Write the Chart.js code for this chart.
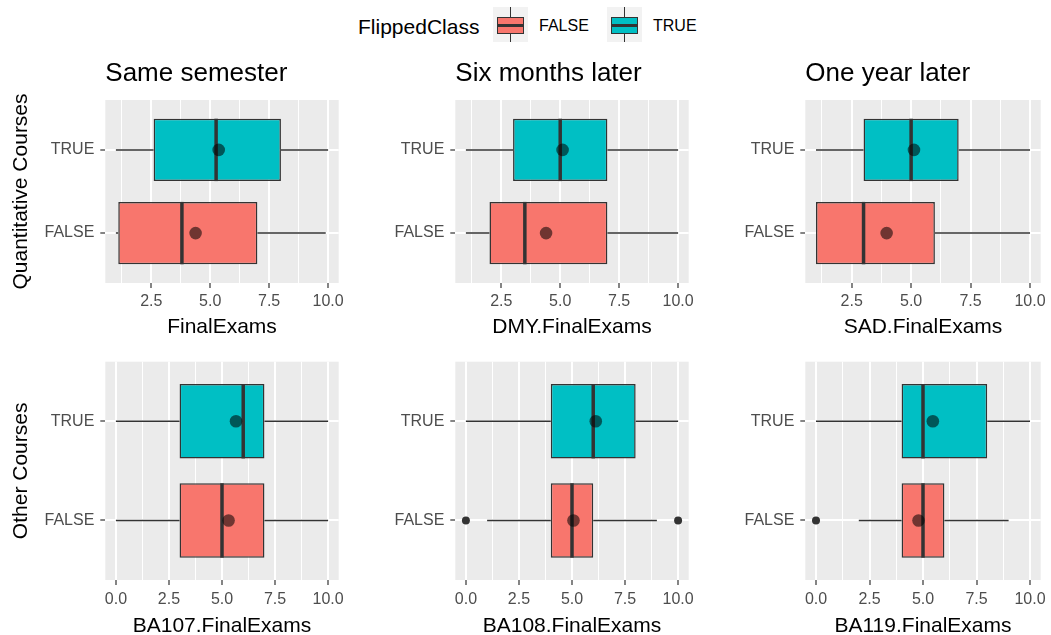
<!DOCTYPE html>
<html>
<head>
<meta charset="utf-8">
<script src="https://cdn.jsdelivr.net/npm/chart.js@4/dist/chart.umd.min.js"></script>
<style>
  body { margin: 0; background: #fff; width: 1051px; height: 635px; overflow: hidden; position: relative; font-family: "Liberation Sans", Arial, sans-serif; }
  canvas { position: absolute; }
  .lg { position: absolute; white-space: nowrap; line-height: 1; }
  .key { position: absolute; background: #F2F2F2; }
  .key .wh { position: absolute; background: #333; }
  .key .bx { position: absolute; border: 1.5px solid #333; box-sizing: border-box; }
  .key .md { position: absolute; background: #333; }
</style>
</head>
<body>
<div class="lg" style="left:358px; top:16px; font-size:21px; color:#000;">FlippedClass</div>
<div class="key" style="left:493px; top:7px; width:35px; height:35px;">
  <div class="wh" style="left:16.75px; top:0; width:1.5px; height:35px;"></div>
  <div class="bx" style="left:4px; top:9.5px; width:27px; height:17px; background:#F8766D;"></div>
  <div class="md" style="left:4px; top:16.5px; width:27px; height:3px;"></div>
</div>
<div class="lg" style="left:539px; top:18px; font-size:16px; color:#000;">FALSE</div>
<div class="key" style="left:607px; top:7px; width:35px; height:35px;">
  <div class="wh" style="left:16.75px; top:0; width:1.5px; height:35px;"></div>
  <div class="bx" style="left:4px; top:9.5px; width:27px; height:17px; background:#00BFC4;"></div>
  <div class="md" style="left:4px; top:16.5px; width:27px; height:3px;"></div>
</div>
<div class="lg" style="left:653px; top:18px; font-size:16px; color:#000;">TRUE</div>

<script>
// --- data ---
const colTitles = ['Same semester', 'Six months later', 'One year later'];
const rowTitles = ['Quantitative Courses', 'Other Courses'];
const xTitles = ['FinalExams', 'DMY.FinalExams', 'SAD.FinalExams',
                 'BA107.FinalExams', 'BA108.FinalExams', 'BA119.FinalExams'];
const groups = ['FALSE', 'TRUE'];
const groupColors = ['#F8766D', '#00BFC4'];

// per panel: [FALSE, TRUE]
const lowWhisker  = [[1, 1], [1, 1], [1, 1], [0, 0], [1, 0], [2, 0]];
const q1          = [[1.1, 2.6], [2, 3], [1, 3], [3, 3], [4, 4], [4, 4]];
const medians     = [[3.8, 5.25], [3.5, 5], [3, 5], [5, 6], [5, 6], [5, 5]];
const q3          = [[7, 8], [7, 7], [6, 7], [7, 7], [6, 8], [6, 8]];
const highWhisker = [[9.9, 10], [10, 10], [10, 10], [10, 10], [9, 10], [9, 10]];
const means       = [[4.38, 5.36], [4.4, 5.1], [3.97, 5.12], [5.31, 5.66], [5.07, 6.12], [4.79, 5.46]];
const outliers    = [[[], []], [[], []], [[], []], [[], []], [[0, 10], []], [[0], []]];

const topTicks = [1.25, 2.5, 3.75, 5, 6.25, 7.5, 8.75, 10];
const bottomTicks = [0, 1.25, 2.5, 3.75, 5, 6.25, 7.5, 8.75, 10];
const majorStep = 2.5;

const isMajor = v => Math.abs(v / majorStep - Math.round(v / majorStep)) < 1e-6;

// panel background + whiskers + medians
const boxParts = {
  id: 'boxParts',
  beforeDraw(chart) {
    const { ctx, chartArea: a } = chart;
    ctx.save();
    ctx.fillStyle = '#EBEBEB';
    ctx.fillRect(a.left, a.top, a.right - a.left, a.bottom - a.top);
    ctx.restore();
  },
  afterDatasetDraw(chart, args, opts) {
    if (args.index !== 0) return;
    const p = opts.panel;
    const xs = chart.scales.x;
    const ctx = chart.ctx;
    ctx.save();
    args.meta.data.forEach((bar, g) => {
      const y = bar.y, h = bar.height;
      ctx.strokeStyle = '#333';
      ctx.lineWidth = 1.5;
      ctx.beginPath();
      ctx.moveTo(xs.getPixelForValue(lowWhisker[p][g]), y);
      ctx.lineTo(xs.getPixelForValue(q1[p][g]), y);
      ctx.moveTo(xs.getPixelForValue(q3[p][g]), y);
      ctx.lineTo(xs.getPixelForValue(highWhisker[p][g]), y);
      ctx.stroke();
      ctx.lineWidth = 3.5;
      const mx = xs.getPixelForValue(medians[p][g]);
      ctx.beginPath();
      ctx.moveTo(mx, y - h / 2);
      ctx.lineTo(mx, y + h / 2);
      ctx.stroke();
    });
    ctx.restore();
  }
};

for (let p = 0; p < 6; p++) {
  const row = Math.floor(p / 3), col = p % 3;
  const cv = document.createElement('canvas');
  const left = col * 350;
  const width = col === 2 ? 351 : 345;
  const top = row === 0 ? 50 : 340;
  const height = row === 0 ? 290 : 300;
  cv.width = width; cv.height = height;
  cv.style.left = left + 'px'; cv.style.top = top + 'px';
  document.body.appendChild(cv);

  const ticksArr = row === 0 ? topTicks : bottomTicks;

  new Chart(cv.getContext('2d'), {
    type: 'bar',
    data: {
      datasets: [
        {
          type: 'bar',
          order: 3,
          data: groups.map((g, i) => ({ x: [q1[p][i], q3[p][i]], y: i + 1 })),
          backgroundColor: groupColors,
          borderColor: '#333',
          borderWidth: 1.5,
          borderSkipped: false,
          barPercentage: 0.9375,
          categoryPercentage: 0.8
        },
        {
          type: 'scatter',
          order: 2,
          data: groups.flatMap((g, i) => outliers[p][i].map(v => ({ x: v, y: i + 1 }))),
          pointRadius: 4,
          backgroundColor: '#333',
          borderWidth: 0
        },
        {
          type: 'scatter',
          order: 1,
          data: groups.map((g, i) => ({ x: means[p][i], y: i + 1 })),
          pointRadius: 6.3,
          backgroundColor: 'rgba(0,0,0,0.55)',
          borderWidth: 0
        }
      ]
    },
    options: {
      indexAxis: 'y',
      responsive: false,
      animation: false,
      events: [],
      layout: {
        padding: { top: row === 0 ? 0 : 21.7, right: col === 2 ? 10.3 : 4.3, left: 0, bottom: 0 }
      },
      plugins: {
        legend: { display: false },
        tooltip: { enabled: false },
        title: {
          display: row === 0,
          text: colTitles[col],
          align: 'start',
          fullSize: false,
          color: '#000',
          font: { family: 'Liberation Sans', size: 26, weight: 'normal' },
          padding: { top: 8.4, bottom: 10.4 }
        },
        boxParts: { panel: p }
      },
      scales: {
        x: {
          type: 'linear',
          offset: false,
          beginAtZero: false,
          min: row === 0 ? 0.55 : -0.5,
          max: row === 0 ? 10.45 : 10.5,
          afterBuildTicks: s => { s.ticks = ticksArr.map(v => ({ value: v })); },
          afterFit: s => { s.height = row === 0 ? 57 : 60; s.paddingLeft = 0; s.paddingRight = 0; },
          border: { display: false },
          grid: {
            offset: false,
            color: '#FFFFFF',
            lineWidth: c => (c.tick && isMajor(c.tick.value)) ? 2 : 1,
            tickColor: c => (c.tick && isMajor(c.tick.value)) ? '#333' : 'rgba(0,0,0,0)',
            tickLength: 5,
            tickWidth: 1.2
          },
          ticks: {
            autoSkip: false,
            maxRotation: 0,
            padding: row === 0 ? 4.4 : 5.4,
            color: '#4D4D4D',
            font: { family: 'Liberation Sans', size: 16 },
            callback: v => isMajor(v) ? v.toFixed(1) : ''
          },
          title: {
            display: true,
            text: xTitles[p],
            color: '#000',
            font: { family: 'Liberation Sans', size: 21 },
            padding: { top: 0, bottom: row === 0 ? 0.4 : 1.4 }
          }
        },
        y: {
          type: 'linear',
          offset: false,
          beginAtZero: false,
          min: 0.4,
          max: 2.6,
          afterBuildTicks: s => { s.ticks = groups.map((g, i) => ({ value: i + 1 })); },
          afterFit: s => { s.width = 105.3; s.paddingTop = 0; s.paddingBottom = 0; },
          border: { display: false },
          grid: {
            offset: false,
            color: '#FFFFFF',
            lineWidth: 2,
            tickColor: '#333',
            tickLength: 5,
            tickWidth: 1.2
          },
          ticks: {
            autoSkip: false,
            padding: 6,
            color: '#4D4D4D',
            font: { family: 'Liberation Sans', size: 16 },
            callback: v => groups[Math.round(v) - 1]
          },
          title: {
            display: col === 0,
            text: rowTitles[row],
            color: '#000',
            font: { family: 'Liberation Sans', size: 21 },
            padding: { top: 8.4, bottom: 0 }
          }
        }
      }
    },
    plugins: [boxParts]
  });
}
</script>
</body>
</html>
